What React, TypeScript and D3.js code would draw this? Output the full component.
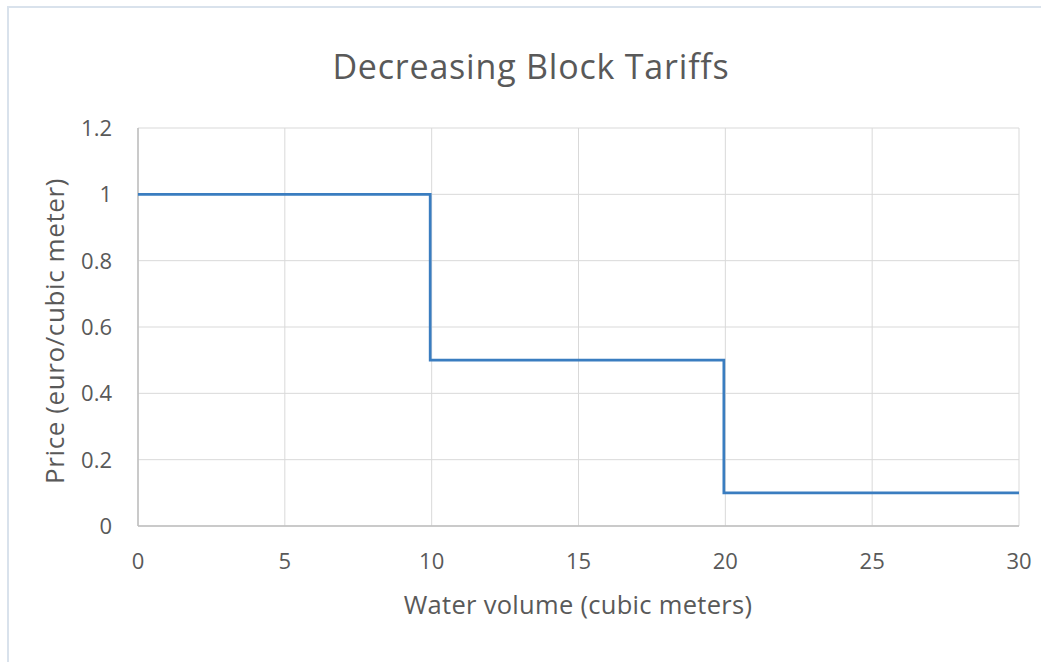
import React from "react";
import * as d3 from "d3";

const chartTitle = "Decreasing Block Tariffs";
const xAxisTitle = "Water volume (cubic meters)";
const yAxisTitle = "Price (euro/cubic meter)";
const volumes = [0, 9.95, 9.95, 19.95, 19.95, 30];
const prices = [1, 1, 0.5, 0.5, 0.1, 0.1];
const xTicks = [0, 5, 10, 15, 20, 25, 30];
const yTicks = [0, 0.2, 0.4, 0.6, 0.8, 1, 1.2];

const W = 1041;
const H = 662;
const FONT = "'Open Sans', Lato, sans-serif";

export default function App() {
  const x = d3.scaleLinear().domain([0, 30]).range([138, 1019]);
  const y = d3.scaleLinear().domain([0, 1.2]).range([526, 128]);
  const pts = volumes.map((v, i) => [v, prices[i]] as [number, number]);
  const line = d3
    .line<[number, number]>()
    .x((d) => x(d[0]))
    .y((d) => y(d[1]));
  return (
    <svg
      width={W}
      height={H}
      style={{ position: "absolute", left: 0, top: 0, background: "#fff" }}
    >
      <rect x={0} y={0} width={W} height={H} fill="#fff" />
      <rect
        x={8}
        y={7}
        width={W + 20}
        height={H + 20}
        fill="#fff"
        stroke="#d9e2ec"
        strokeWidth={2}
      />
      <text
        x={531}
        y={79}
        textAnchor="middle"
        fontFamily={FONT}
        fontSize={34}
        letterSpacing={0.8}
        fill="#595959"
      >
        {chartTitle}
      </text>
      {xTicks.map((t) => (
        <line
          key={"gx" + t}
          x1={x(t)}
          x2={x(t)}
          y1={y(1.2)}
          y2={y(0)}
          stroke="#d9d9d9"
          strokeWidth={1}
        />
      ))}
      {yTicks.map((t) => (
        <line
          key={"gy" + t}
          x1={x(0)}
          x2={x(30)}
          y1={y(t)}
          y2={y(t)}
          stroke="#d9d9d9"
          strokeWidth={1}
        />
      ))}
      <line x1={x(0)} x2={x(30)} y1={y(0)} y2={y(0)} stroke="#bfbfbf" strokeWidth={1.5} />
      <line x1={x(0)} x2={x(0)} y1={y(0)} y2={y(1.2)} stroke="#bfbfbf" strokeWidth={1.5} />
      <path d={line(pts) || ""} fill="none" stroke="#3a7dc0" strokeWidth={2.75} />
      {yTicks.map((t) => (
        <text
          key={"ty" + t}
          x={112}
          y={y(t)}
          dy="0.36em"
          textAnchor="end"
          fontFamily={FONT}
          fontSize={22}
          fill="#595959"
        >
          {d3.format("~g")(t)}
        </text>
      ))}
      {xTicks.map((t) => (
        <text
          key={"tx" + t}
          x={x(t)}
          y={561}
          dy="0.36em"
          textAnchor="middle"
          fontFamily={FONT}
          fontSize={22}
          fill="#595959"
        >
          {t}
        </text>
      ))}
      <text
        x={578}
        y={605}
        dy="0.36em"
        textAnchor="middle"
        fontFamily={FONT}
        fontSize={25.5}
        letterSpacing={0.3}
        fill="#595959"
      >
        {xAxisTitle}
      </text>
      <text
        transform={`translate(55,331) rotate(-90)`}
        dy="0.36em"
        textAnchor="middle"
        fontFamily={FONT}
        fontSize={26}
        letterSpacing={0.6}
        fill="#595959"
      >
        {yAxisTitle}
      </text>
    </svg>
  );
}
